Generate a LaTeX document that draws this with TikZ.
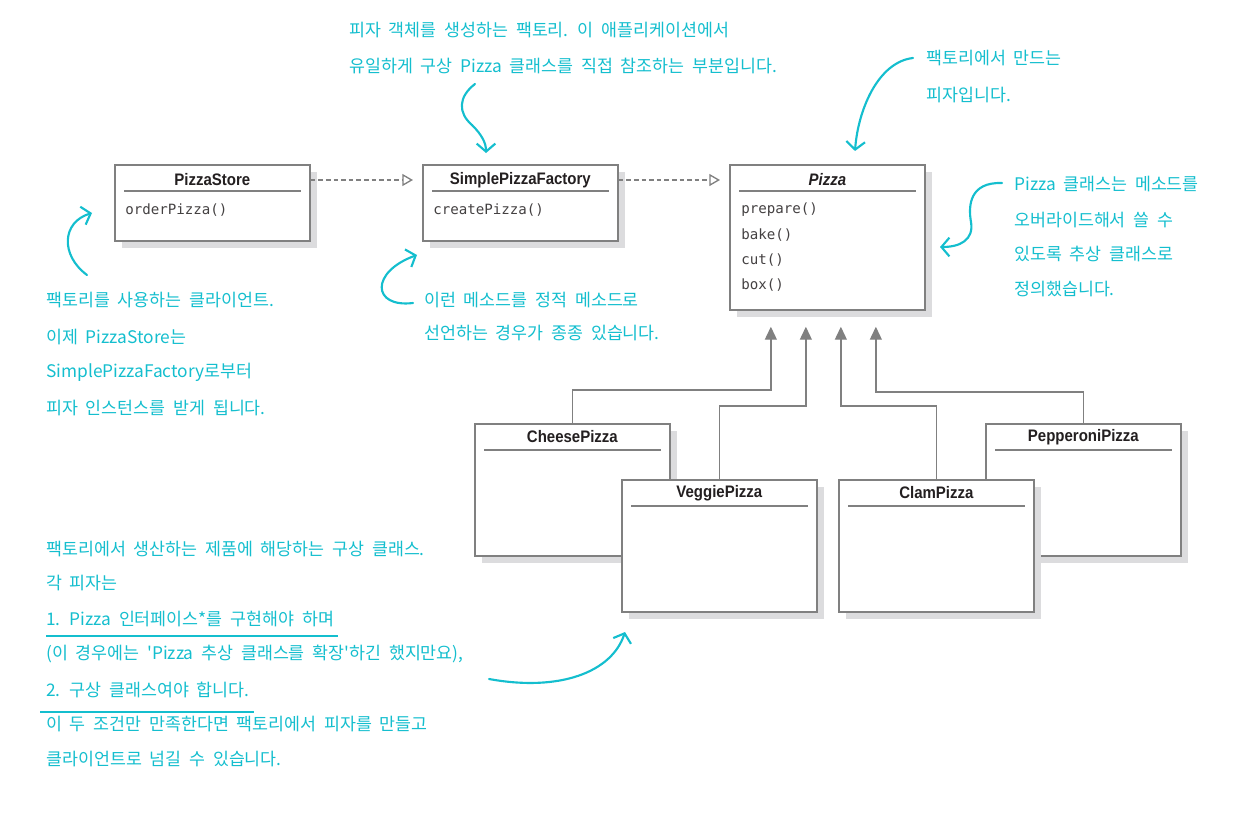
\documentclass[tikz,border=0pt]{standalone}
\usepackage{fontspec}
\usetikzlibrary{arrows.meta,shadows,calc}
\newfontfamily\kfont[WordSpace=2.0]{Noto Sans CJK KR}
\newfontfamily\umlfont[FakeStretch=0.9]{Liberation Sans}
\newfontfamily\methfont{DejaVu Sans Mono}
\definecolor{annocol}{RGB}{20,190,206}
\definecolor{boxline}{RGB}{128,128,128}
\definecolor{shade}{RGB}{220,220,222}
\definecolor{ink}{RGB}{35,31,32}
\tikzset{
  umlbox/.style={draw=boxline, line width=1.3pt, fill=white, anchor=north west,
    minimum width=146.25pt, inner sep=0pt,
    drop shadow={shadow xshift=5.25pt, shadow yshift=-5.25pt, fill=shade, opacity=1}},
  umltitle/.style={font=\umlfont\bfseries\fontsize{12.5}{14}\selectfont, text=ink, inner sep=0pt},
  meth/.style={font=\methfont\fontsize{10.6}{12}\selectfont, text=ink!85, anchor=west, inner sep=0pt},
  sepline/.style={draw=boxline, line width=0.8pt},
  annot/.style={font=\kfont\fontsize{13}{15}\selectfont, text=annocol, anchor=west, inner sep=0pt},
  callout/.style={draw=annocol, line width=1.6pt, line cap=round,
    -{Straight Barb[length=6pt,width=14pt,line width=1.6pt]}},
  annoline/.style={draw=annocol, line width=1.1pt},
  dep/.style={draw=boxline, line width=1pt, dash pattern=on 3.5pt off 2.2pt,
    -{Triangle[open, length=8pt, width=9pt, line width=1pt]}, shorten >=6.75pt},
  inh/.style={draw=boxline, line width=1pt,
    -{Triangle[length=9.75pt, width=9pt]}, shorten >=12pt}
}
\begin{document}
\begin{tikzpicture}[x=0.75pt,y=-0.75pt]
\useasboundingbox (0,0) rectangle (1247,817);

% ---------- top classes ----------
\node[umlbox, minimum height=57pt] (ps) at (114,164) {};
\node[umltitle] (pst) at ($(ps.north)+(0,16)$) {PizzaStore};
\draw[sepline] ($(ps.north west)+(10,27)$) -- ($(ps.north east)+(-10,27)$);
\node[meth] (psm) at ($(ps.north west)+(11,46)$) {orderPizza()};

\node[umlbox, minimum height=57pt] (spf) at (422,164) {};
\node[umltitle] (spft) at ($(spf.north)+(0,16)$) {SimplePizzaFactory};
\draw[sepline] ($(spf.north west)+(10,27)$) -- ($(spf.north east)+(-10,27)$);
\node[meth] (spfm) at ($(spf.north west)+(11,46)$) {createPizza()};

\node[umlbox, minimum height=108.75pt] (pz) at (729,164) {};
\node[umltitle] (pzt) at ($(pz.north)+(0,16)$) {\itshape Pizza};
\draw[sepline] ($(pz.north west)+(10,27)$) -- ($(pz.north east)+(-10,27)$);
\node[meth] (pzm1) at ($(pz.north west)+(12,46)$) {prepare()};
\node[meth] (pzm2) at ($(pz.north west)+(12,71)$) {bake()};
\node[meth] (pzm3) at ($(pz.north west)+(12,96)$) {cut()};
\node[meth] (pzm4) at ($(pz.north west)+(12,121)$) {box()};

\draw[dep] (pst -| ps.east) -- (spft -| spf.west);
\draw[dep] (spft -| spf.east) -- (pzt -| pz.west);

% ---------- concrete pizzas ----------
\node[umlbox, minimum height=99pt] (cp) at (474,423) {};
\node[umltitle] (cpt) at ($(cp.north)+(0,14)$) {CheesePizza};
\draw[sepline] ($(cp.north west)+(10,27)$) -- ($(cp.north east)+(-10,27)$);

\node[umlbox, minimum height=99pt] (pp) at (985,423) {};
\node[umltitle] (ppt) at ($(pp.north)+(0,14)$) {PepperoniPizza};
\draw[sepline] ($(pp.north west)+(10,27)$) -- ($(pp.north east)+(-10,27)$);

\node[umlbox, minimum height=99pt] (vp) at (621,479) {};
\node[umltitle] (vpt) at ($(vp.north)+(0,14)$) {VeggiePizza};
\draw[sepline] ($(vp.north west)+(10,27)$) -- ($(vp.north east)+(-10,27)$);

\node[umlbox, minimum height=99pt] (clp) at (838,479) {};
\node[umltitle] (clpt) at ($(clp.north)+(0,14)$) {ClamPizza};
\draw[sepline] ($(clp.north west)+(10,27)$) -- ($(clp.north east)+(-10,27)$);

\draw[inh] (cp.north) -- ++(0,-33) -| ($(pz.south)+(-56.5,0)$);
\draw[inh] (vp.north) -- ++(0,-73) -| ($(pz.south)+(-21.5,0)$);
\draw[inh] (clp.north) -- ++(0,-73) -| ($(pz.south)+(13.5,0)$);
\draw[inh] (pp.north) -- ++(0,-31) -| ($(pz.south)+(48.5,0)$);

% ---------- annotations ----------
\node[annot] (a1) at (349,30) {피자 객체를 생성하는 팩토리. 이 애플리케이션에서};
\node[annot] (a2) at (349,66) {유일하게 구상 Pizza 클래스를 직접 참조하는 부분입니다.};

\node[annot] (b1) at (926,58) {팩토리에서 만드는};
\node[annot] (b2) at (926,95) {피자입니다.};

\node[annot] (c1) at (1014,184) {Pizza 클래스는 메소드를};
\node[annot] (c2) at (1014,220) {오버라이드해서 쓸 수};
\node[annot] (c3) at (1014,254) {있도록 추상 클래스로};
\node[annot] (c4) at (1014,289) {정의했습니다.};

\node[annot] (d1) at (46,300) {팩토리를 사용하는 클라이언트.};
\node[annot] (d2) at (46,337) {이제 PizzaStore는};
\node[annot] (d3) at (46,372) {SimplePizzaFactory로부터};
\node[annot] (d4) at (46,408) {피자 인스턴스를 받게 됩니다.};

\node[annot] (e1) at (424,300) {이런 메소드를 정적 메소드로};
\node[annot] (e2) at (424,333) {선언하는 경우가 종종 있습니다.};

\node[annot] (f1) at (46,549) {팩토리에서 생산하는 제품에 해당하는 구상 클래스.};
\node[annot] (f2) at (46,583) {각 피자는};
\node[annot] (f3) at (46,619) {1. Pizza 인터페이스*를 구현해야 하며};
\node[annot] (f4) at (46,654) {(이 경우에는 'Pizza 추상 클래스를 확장'하긴 했지만요),};
\node[annot] (f5) at (46,690) {2. 구상 클래스여야 합니다.};
\node[annot] (f6) at (46,724) {이 두 조건만 만족한다면 팩토리에서 피자를 만들고};
\node[annot] (f7) at (46,759) {클라이언트로 넘길 수 있습니다.};

\draw[annoline] ($(f3.west)+(0,17)$) -- ($(f3.east)+(4,17)$);
\draw[annoline] ($(f5.west)+(-6,22)$) -- ($(f5.east)+(4,22)$);

% ---------- callout arrows ----------
\coordinate (ka) at (475,84);   \coordinate (kaa) at (486,153);
\coordinate (kb) at (913,58);   \coordinate (kbb) at (855,151);
\coordinate (kc) at (1002,183); \coordinate (kcc) at (940,247);
\coordinate (kd) at (87,275);   \coordinate (kdd) at (92,213);
\coordinate (ke) at (413,303);  \coordinate (kee) at (417,255);
\coordinate (kf) at (489,679);  \coordinate (kff) at (625,632);

\draw[callout] (ka) .. controls (458,97) and (458,113) .. (472,125)
               .. controls (482,135) and (486,143) .. (kaa);
\draw[callout] (kb) .. controls (878,62) and (858,110) .. (kbb);
\draw[callout] (kc) .. controls (970,182) and (968,205) .. (971,222)
               .. controls (974,240) and (960,247) .. (kcc);
\draw[callout] (kd) .. controls (60,255) and (62,222) .. (kdd);
\draw[callout] (ke) .. controls (372,308) and (370,272) .. (kee);
\draw[callout] (kf) .. controls (560,692) and (612,672) .. (kff);
\end{tikzpicture}
\end{document}
